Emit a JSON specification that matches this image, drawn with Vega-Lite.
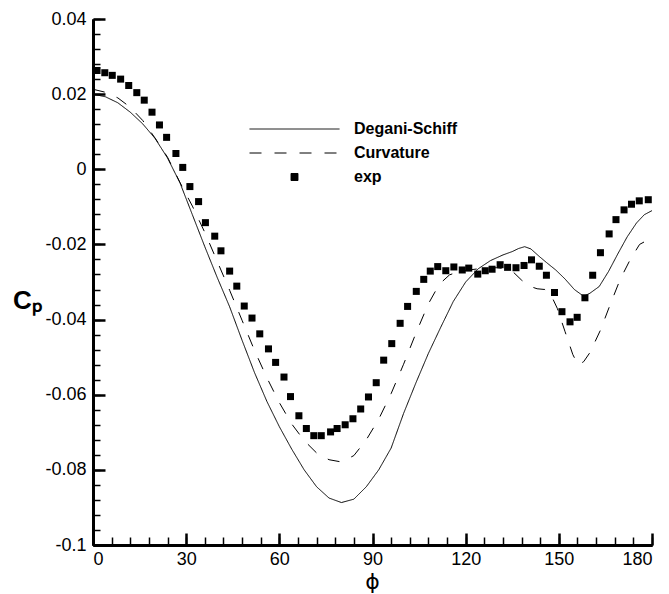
{
  "$schema": "https://vega.github.io/schema/vega-lite/v6.json",
  "autosize": "none",
  "width": 559,
  "height": 526,
  "padding": {"left": 93, "top": 19, "right": 17, "bottom": 49},
  "background": "white",
  "config": {
    "view": {"stroke": null},
    "axis": {"labelFont": "Liberation Sans", "titleFont": "Liberation Sans", "labelColor": "black", "titleColor": "black", "grid": false}
  },
  "datasets": {
    "lines": [
      {"series": "Degani-Schiff", "phi": 0, "cp": 0.0200},
      {"series": "Degani-Schiff", "phi": 4, "cp": 0.0193},
      {"series": "Degani-Schiff", "phi": 8, "cp": 0.0177},
      {"series": "Degani-Schiff", "phi": 12, "cp": 0.0152},
      {"series": "Degani-Schiff", "phi": 16, "cp": 0.0121},
      {"series": "Degani-Schiff", "phi": 20, "cp": 0.0082},
      {"series": "Degani-Schiff", "phi": 24, "cp": 0.0030},
      {"series": "Degani-Schiff", "phi": 28, "cp": -0.0036},
      {"series": "Degani-Schiff", "phi": 32, "cp": -0.0121},
      {"series": "Degani-Schiff", "phi": 36, "cp": -0.0206},
      {"series": "Degani-Schiff", "phi": 40, "cp": -0.0288},
      {"series": "Degani-Schiff", "phi": 44, "cp": -0.0366},
      {"series": "Degani-Schiff", "phi": 48, "cp": -0.0455},
      {"series": "Degani-Schiff", "phi": 52, "cp": -0.0541},
      {"series": "Degani-Schiff", "phi": 56, "cp": -0.0618},
      {"series": "Degani-Schiff", "phi": 60, "cp": -0.0685},
      {"series": "Degani-Schiff", "phi": 64, "cp": -0.0745},
      {"series": "Degani-Schiff", "phi": 68, "cp": -0.0800},
      {"series": "Degani-Schiff", "phi": 72, "cp": -0.0845},
      {"series": "Degani-Schiff", "phi": 76, "cp": -0.0875},
      {"series": "Degani-Schiff", "phi": 80, "cp": -0.0887},
      {"series": "Degani-Schiff", "phi": 84, "cp": -0.0878},
      {"series": "Degani-Schiff", "phi": 88, "cp": -0.0845},
      {"series": "Degani-Schiff", "phi": 92, "cp": -0.0800},
      {"series": "Degani-Schiff", "phi": 96, "cp": -0.0742},
      {"series": "Degani-Schiff", "phi": 100, "cp": -0.0650},
      {"series": "Degani-Schiff", "phi": 104, "cp": -0.0568},
      {"series": "Degani-Schiff", "phi": 108, "cp": -0.0490},
      {"series": "Degani-Schiff", "phi": 112, "cp": -0.0420},
      {"series": "Degani-Schiff", "phi": 116, "cp": -0.0352},
      {"series": "Degani-Schiff", "phi": 120, "cp": -0.0300},
      {"series": "Degani-Schiff", "phi": 124, "cp": -0.0265},
      {"series": "Degani-Schiff", "phi": 128, "cp": -0.0243},
      {"series": "Degani-Schiff", "phi": 132, "cp": -0.0228},
      {"series": "Degani-Schiff", "phi": 135, "cp": -0.0219},
      {"series": "Degani-Schiff", "phi": 137, "cp": -0.0211},
      {"series": "Degani-Schiff", "phi": 139, "cp": -0.0206},
      {"series": "Degani-Schiff", "phi": 141, "cp": -0.0212},
      {"series": "Degani-Schiff", "phi": 143.7, "cp": -0.0232},
      {"series": "Degani-Schiff", "phi": 146, "cp": -0.0248},
      {"series": "Degani-Schiff", "phi": 149, "cp": -0.0268},
      {"series": "Degani-Schiff", "phi": 152, "cp": -0.0292},
      {"series": "Degani-Schiff", "phi": 155, "cp": -0.0320},
      {"series": "Degani-Schiff", "phi": 158, "cp": -0.0338},
      {"series": "Degani-Schiff", "phi": 160, "cp": -0.0330},
      {"series": "Degani-Schiff", "phi": 163, "cp": -0.0312},
      {"series": "Degani-Schiff", "phi": 166, "cp": -0.0272},
      {"series": "Degani-Schiff", "phi": 169, "cp": -0.0225},
      {"series": "Degani-Schiff", "phi": 172, "cp": -0.0180},
      {"series": "Degani-Schiff", "phi": 175, "cp": -0.0143},
      {"series": "Degani-Schiff", "phi": 177.5, "cp": -0.0121},
      {"series": "Degani-Schiff", "phi": 180, "cp": -0.0110},
      {"series": "Curvature", "phi": 0, "cp": 0.0213},
      {"series": "Curvature", "phi": 4, "cp": 0.0205},
      {"series": "Curvature", "phi": 8, "cp": 0.0190},
      {"series": "Curvature", "phi": 12, "cp": 0.0165},
      {"series": "Curvature", "phi": 16, "cp": 0.0130},
      {"series": "Curvature", "phi": 20, "cp": 0.0083},
      {"series": "Curvature", "phi": 24, "cp": 0.0032},
      {"series": "Curvature", "phi": 28, "cp": -0.0035},
      {"series": "Curvature", "phi": 32, "cp": -0.0098},
      {"series": "Curvature", "phi": 36, "cp": -0.0168},
      {"series": "Curvature", "phi": 40, "cp": -0.0245},
      {"series": "Curvature", "phi": 44, "cp": -0.0322},
      {"series": "Curvature", "phi": 48, "cp": -0.0402},
      {"series": "Curvature", "phi": 52, "cp": -0.0482},
      {"series": "Curvature", "phi": 56, "cp": -0.0555},
      {"series": "Curvature", "phi": 60, "cp": -0.0621},
      {"series": "Curvature", "phi": 64, "cp": -0.0678},
      {"series": "Curvature", "phi": 68, "cp": -0.0722},
      {"series": "Curvature", "phi": 72, "cp": -0.0755},
      {"series": "Curvature", "phi": 76, "cp": -0.0773},
      {"series": "Curvature", "phi": 80, "cp": -0.0779},
      {"series": "Curvature", "phi": 84, "cp": -0.0762},
      {"series": "Curvature", "phi": 88, "cp": -0.0720},
      {"series": "Curvature", "phi": 92, "cp": -0.0665},
      {"series": "Curvature", "phi": 96, "cp": -0.0597},
      {"series": "Curvature", "phi": 100, "cp": -0.0519},
      {"series": "Curvature", "phi": 104, "cp": -0.0436},
      {"series": "Curvature", "phi": 108, "cp": -0.0358},
      {"series": "Curvature", "phi": 111.5, "cp": -0.0306},
      {"series": "Curvature", "phi": 114.8, "cp": -0.0281},
      {"series": "Curvature", "phi": 118, "cp": -0.0272},
      {"series": "Curvature", "phi": 122, "cp": -0.0267},
      {"series": "Curvature", "phi": 126, "cp": -0.0263},
      {"series": "Curvature", "phi": 130, "cp": -0.0262},
      {"series": "Curvature", "phi": 133, "cp": -0.0265},
      {"series": "Curvature", "phi": 135.5, "cp": -0.0275},
      {"series": "Curvature", "phi": 138, "cp": -0.0295},
      {"series": "Curvature", "phi": 140.5, "cp": -0.0311},
      {"series": "Curvature", "phi": 143, "cp": -0.0318},
      {"series": "Curvature", "phi": 145.5, "cp": -0.0320},
      {"series": "Curvature", "phi": 147.5, "cp": -0.0335},
      {"series": "Curvature", "phi": 149.5, "cp": -0.0370},
      {"series": "Curvature", "phi": 152, "cp": -0.0432},
      {"series": "Curvature", "phi": 154.5, "cp": -0.0493},
      {"series": "Curvature", "phi": 156.2, "cp": -0.0521},
      {"series": "Curvature", "phi": 158, "cp": -0.0512},
      {"series": "Curvature", "phi": 160, "cp": -0.0488},
      {"series": "Curvature", "phi": 163.3, "cp": -0.0430},
      {"series": "Curvature", "phi": 166.5, "cp": -0.0361},
      {"series": "Curvature", "phi": 169.7, "cp": -0.0294},
      {"series": "Curvature", "phi": 173, "cp": -0.0240},
      {"series": "Curvature", "phi": 176, "cp": -0.0200},
      {"series": "Curvature", "phi": 178, "cp": -0.0191},
      {"series": "Curvature", "phi": 180, "cp": -0.0188}
    ],
    "exp": [
      {"series": "exp", "phi": 1.3, "cp": 0.0263},
      {"series": "exp", "phi": 3.8, "cp": 0.0257},
      {"series": "exp", "phi": 6.2, "cp": 0.0250},
      {"series": "exp", "phi": 8.9, "cp": 0.0240},
      {"series": "exp", "phi": 11.5, "cp": 0.0223},
      {"series": "exp", "phi": 14.1, "cp": 0.0204},
      {"series": "exp", "phi": 16.5, "cp": 0.0184},
      {"series": "exp", "phi": 19.0, "cp": 0.0152},
      {"series": "exp", "phi": 21.4, "cp": 0.0118},
      {"series": "exp", "phi": 23.7, "cp": 0.0085},
      {"series": "exp", "phi": 26.7, "cp": 0.0042},
      {"series": "exp", "phi": 28.9, "cp": 0.0005},
      {"series": "exp", "phi": 31.2, "cp": -0.0046},
      {"series": "exp", "phi": 34.0, "cp": -0.0086},
      {"series": "exp", "phi": 36.2, "cp": -0.0142},
      {"series": "exp", "phi": 39.2, "cp": -0.0178},
      {"series": "exp", "phi": 41.2, "cp": -0.0217},
      {"series": "exp", "phi": 44.0, "cp": -0.0271},
      {"series": "exp", "phi": 46.3, "cp": -0.0311},
      {"series": "exp", "phi": 48.7, "cp": -0.0364},
      {"series": "exp", "phi": 51.2, "cp": -0.0396},
      {"series": "exp", "phi": 53.7, "cp": -0.0438},
      {"series": "exp", "phi": 56.5, "cp": -0.0478},
      {"series": "exp", "phi": 58.8, "cp": -0.0514},
      {"series": "exp", "phi": 61.5, "cp": -0.0553},
      {"series": "exp", "phi": 63.6, "cp": -0.0605},
      {"series": "exp", "phi": 66.3, "cp": -0.0656},
      {"series": "exp", "phi": 68.7, "cp": -0.0690},
      {"series": "exp", "phi": 71.1, "cp": -0.0709},
      {"series": "exp", "phi": 73.5, "cp": -0.0709},
      {"series": "exp", "phi": 76.5, "cp": -0.0699},
      {"series": "exp", "phi": 78.6, "cp": -0.0690},
      {"series": "exp", "phi": 81.2, "cp": -0.0680},
      {"series": "exp", "phi": 83.7, "cp": -0.0664},
      {"series": "exp", "phi": 86.2, "cp": -0.0638},
      {"series": "exp", "phi": 88.7, "cp": -0.0606},
      {"series": "exp", "phi": 91.2, "cp": -0.0568},
      {"series": "exp", "phi": 93.6, "cp": -0.0508},
      {"series": "exp", "phi": 96.2, "cp": -0.0464},
      {"series": "exp", "phi": 98.9, "cp": -0.0410},
      {"series": "exp", "phi": 101.3, "cp": -0.0365},
      {"series": "exp", "phi": 104.1, "cp": -0.0325},
      {"series": "exp", "phi": 106.5, "cp": -0.0293},
      {"series": "exp", "phi": 108.6, "cp": -0.0271},
      {"series": "exp", "phi": 111.0, "cp": -0.0259},
      {"series": "exp", "phi": 113.6, "cp": -0.0270},
      {"series": "exp", "phi": 116.2, "cp": -0.0260},
      {"series": "exp", "phi": 118.9, "cp": -0.0268},
      {"series": "exp", "phi": 121.0, "cp": -0.0263},
      {"series": "exp", "phi": 123.9, "cp": -0.0279},
      {"series": "exp", "phi": 126.3, "cp": -0.0270},
      {"series": "exp", "phi": 128.5, "cp": -0.0266},
      {"series": "exp", "phi": 131.1, "cp": -0.0254},
      {"series": "exp", "phi": 133.5, "cp": -0.0261},
      {"series": "exp", "phi": 136.2, "cp": -0.0262},
      {"series": "exp", "phi": 138.8, "cp": -0.0256},
      {"series": "exp", "phi": 141.2, "cp": -0.0241},
      {"series": "exp", "phi": 143.7, "cp": -0.0258},
      {"series": "exp", "phi": 146.0, "cp": -0.0282},
      {"series": "exp", "phi": 148.6, "cp": -0.0328},
      {"series": "exp", "phi": 151.0, "cp": -0.0379},
      {"series": "exp", "phi": 153.6, "cp": -0.0406},
      {"series": "exp", "phi": 155.9, "cp": -0.0394},
      {"series": "exp", "phi": 158.4, "cp": -0.0342},
      {"series": "exp", "phi": 160.9, "cp": -0.0282},
      {"series": "exp", "phi": 163.4, "cp": -0.0222},
      {"series": "exp", "phi": 166.2, "cp": -0.0172},
      {"series": "exp", "phi": 168.4, "cp": -0.0134},
      {"series": "exp", "phi": 171.0, "cp": -0.0108},
      {"series": "exp", "phi": 173.4, "cp": -0.0093},
      {"series": "exp", "phi": 175.9, "cp": -0.0084},
      {"series": "exp", "phi": 178.8, "cp": -0.0081}
    ]
  },
  "layer": [
    {
      "data": {"name": "exp"},
      "mark": {"type": "point", "opacity": 0},
      "encoding": {
        "x": {"field": "phi", "type": "quantitative", "scale": {"domain": [0, 180], "nice": false, "zero": false},
          "axis": {"orient": "bottom", "values": [0, 30, 60, 90, 120, 150, 180], "ticks": true, "domain": true, "tickColor": "black", "domainColor": "black", "tickSize": -12, "tickWidth": 2.5, "domainWidth": 3, "labelFontSize": 18, "labelPadding": 17,
            "title": "ϕ", "titleFont": "DejaVu Sans", "titleFontSize": 22, "titleFontWeight": "normal", "titleBaseline": "middle", "titleX": 279, "titleY": 36}},
        "y": {"field": "cp", "type": "quantitative", "scale": {"domain": [-0.1, 0.04], "nice": false, "zero": false},
          "axis": {"orient": "left", "values": [-0.1, -0.08, -0.06, -0.04, -0.02, 0, 0.02, 0.04], "labelExpr": "'' + datum.value", "ticks": true, "domain": true, "tickColor": "black", "domainColor": "black", "tickSize": -12, "tickWidth": 2.5, "domainWidth": 3, "labelFontSize": 18, "labelPadding": 19,
            "title": "Cₚ", "titleFontSize": 26, "titleFontWeight": "bold", "titleAngle": 0, "titleAlign": "center", "titleBaseline": "middle", "titleX": -66, "titleY": 281}}
      }
    },
    {
      "data": {"name": "exp"},
      "mark": {"type": "point", "opacity": 0},
      "encoding": {
        "x": {"field": "phi", "type": "quantitative",
          "axis": {"orient": "top", "offset": -526, "values": [0, 6, 12, 18, 24, 30, 36, 42, 48, 54, 60, 66, 72, 78, 84, 90, 96, 102, 108, 114, 120, 126, 132, 138, 144, 150, 156, 162, 168, 174, 180], "ticks": true, "tickColor": "black", "tickSize": 8, "tickWidth": 1.5, "labels": false, "domain": true, "domainColor": "black", "domainWidth": 3, "title": null}},
        "y": {"field": "cp", "type": "quantitative",
          "axis": {"orient": "right", "offset": -559, "values": [-0.1, -0.096, -0.092, -0.088, -0.084, -0.08, -0.076, -0.072, -0.068, -0.064, -0.06, -0.056, -0.052, -0.048, -0.044, -0.04, -0.036, -0.032, -0.028, -0.024, -0.02, -0.016, -0.012, -0.008, -0.004, 0, 0.004, 0.008, 0.012, 0.016, 0.02, 0.024, 0.028, 0.032, 0.036, 0.04], "ticks": true, "tickColor": "black", "tickSize": 7, "tickWidth": 1.5, "labels": false, "domain": true, "domainColor": "black", "domainWidth": 3, "title": null}}
      }
    },
    {
      "data": {"name": "lines"},
      "mark": {"type": "line", "color": "black", "strokeWidth": 1},
      "encoding": {
        "x": {"field": "phi", "type": "quantitative", "axis": null},
        "y": {"field": "cp", "type": "quantitative", "axis": null},
        "detail": {"field": "series"},
        "strokeDash": {"field": "series", "type": "nominal",
          "scale": {"domain": ["Degani-Schiff", "Curvature", "exp"], "range": [[1, 0], [12, 13], [1, 0]]},
          "legend": {"orient": "none", "legendX": 156, "legendY": 100, "title": null, "padding": 0, "clipHeight": 20, "rowPadding": 4, "labelOffset": 14,
            "labelFont": "Liberation Sans", "labelFontSize": 16, "labelFontWeight": "bold", "labelColor": "black", "symbolSize": 8100, "symbolStrokeWidth": 1, "symbolStrokeColor": "black", "symbolFillColor": "black",
            "encode": {"symbols": {"update": {"fill": {"value": "black"}, "stroke": {"value": "black"}, "strokeWidth": {"value": 1}, "opacity": {"value": 1}}}}}
        }
      }
    },
    {
      "data": {"name": "exp"},
      "mark": {"type": "point", "filled": true, "color": "black", "size": 8100, "opacity": 1, "strokeWidth": 0},
      "encoding": {
        "x": {"field": "phi", "type": "quantitative", "axis": null},
        "y": {"field": "cp", "type": "quantitative", "axis": null},
        "shape": {"field": "series", "type": "nominal",
          "scale": {"domain": ["Degani-Schiff", "Curvature", "exp"], "range": ["M-1,0H1", "M-1,0H1", "M-0.078,-0.078H0.078V0.078H-0.078Z"]},
          "legend": {"orient": "none", "legendX": 156, "legendY": 100, "title": null, "padding": 0, "clipHeight": 20, "rowPadding": 4, "labelOffset": 14,
            "labelFont": "Liberation Sans", "labelFontSize": 16, "labelFontWeight": "bold", "labelColor": "black", "symbolSize": 8100, "symbolStrokeWidth": 1, "symbolStrokeColor": "black", "symbolFillColor": "black",
            "encode": {"symbols": {"update": {"fill": {"value": "black"}, "stroke": {"value": "black"}, "strokeWidth": {"value": 1}, "opacity": {"value": 1}}}}}
        }
      }
    }
  ],
  "resolve": {"axis": {"x": "independent", "y": "independent"}}
}
